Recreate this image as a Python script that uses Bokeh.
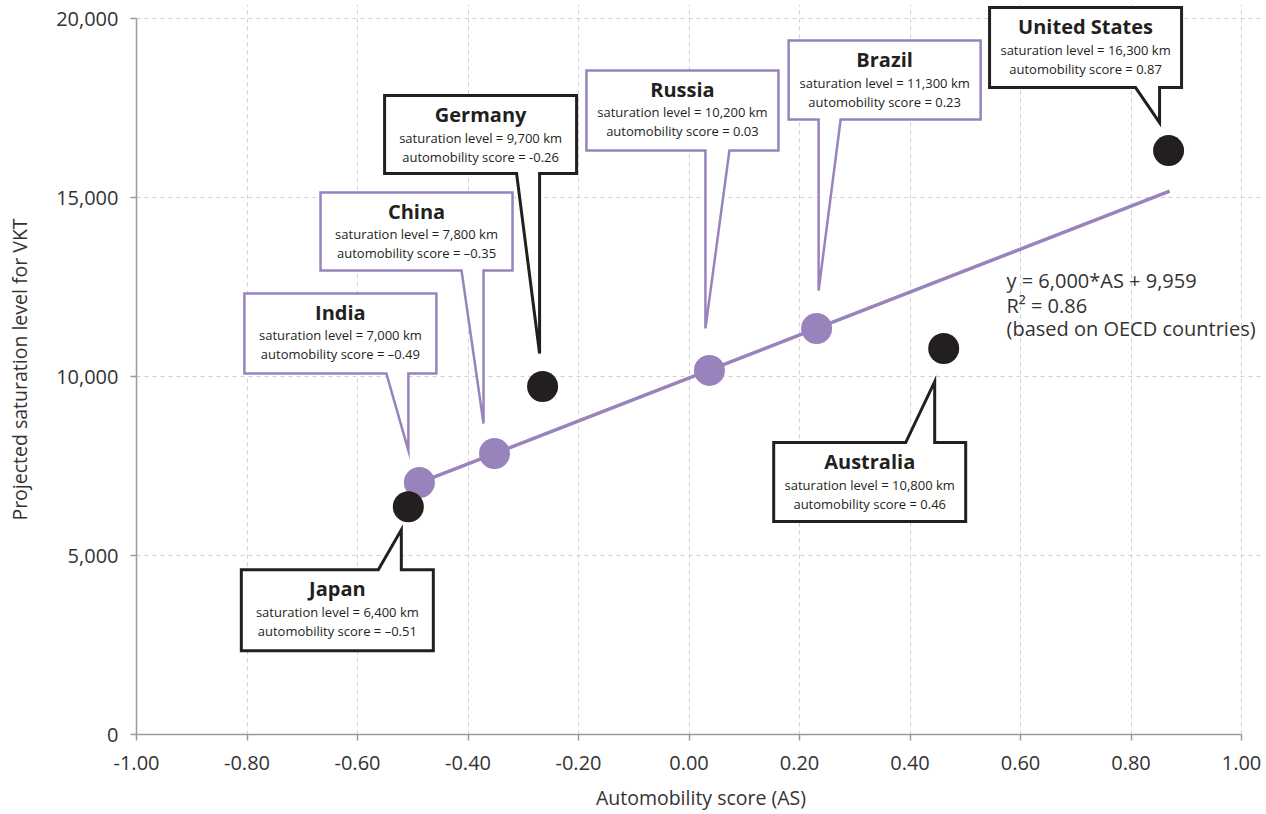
from bokeh.plotting import figure
from bokeh.models import Range1d, FixedTicker, NumeralTickFormatter, ColumnDataSource
from bokeh.embed import file_html
from bokeh.resources import INLINE
from bokeh.core.properties import value

# ---------------- data ----------------
countries = ["Japan", "India", "China", "Germany", "Russia", "Brazil", "Australia", "United States"]
automobility = [-0.508, -0.488, -0.352, -0.265, 0.037, 0.231, 0.461, 0.868]
saturation = [6360, 7040, 7850, 9720, 10170, 11340, 10780, 16310]
label_saturation = ["6,400", "7,000", "7,800", "9,700", "10,200", "11,300", "10,800", "16,300"]
label_automobility = ["\u20130.51", "\u20130.49", "\u20130.35", "-0.26", "0.03", "0.23", "0.46", "0.87"]
is_projected = [False, True, True, False, True, True, False, False]

fit_slope = 6000
fit_intercept = 9959
fit_x = [-0.49, 0.87]
fit_text = ["y = 6,000*AS + 9,959", "R\u00b2 = 0.86", "(based on OECD countries)"]

x_ticks = [-1.0, -0.8, -0.6, -0.4, -0.2, 0.0, 0.2, 0.4, 0.6, 0.8, 1.0]
y_ticks = [0, 5000, 10000, 15000, 20000]

# ---------------- style / layout ----------------
PURPLE = "#9883bd"
BLACK = "#231f20"
TEXT = "#333333"
FONT = "Open Sans"
AX_X0, AX_X1, AX_Y0, AX_Y1 = -1.0, 1.0, 0, 20000
AXIS_W, AXIS_H = 1105, 716          # pixel length of the drawn axes
XPX = AXIS_W / (AX_X1 - AX_X0)
YPX = AXIS_H / (AX_Y1 - AX_Y0)
EXTRA_RIGHT, EXTRA_TOP = 24, 14     # room inside the frame for callouts / notes
X0, X1 = AX_X0, AX_X1 + EXTRA_RIGHT / XPX
Y0, Y1 = AX_Y0, AX_Y1 + EXTRA_TOP / YPX

# note placement (left edge and line centres, px offsets from the axis corner)
NOTE_LEFT_PX = 1006 - 136
NOTE_LINES_PX = [280, 305, 328]

# callout layout in screen pixels relative to each point (y down):
# box left, box top, box height, tail side, tail base x0, x1, tip dx, tip dy
callouts = {
    "Japan":         (-167,   63, 81, "top",    -30,  -7,  -7,  23),
    "India":         (-175, -189, 80, "bottom", -33, -11, -11, -32),
    "China":         (-174, -261, 78, "bottom", -33, -11, -11, -30),
    "Germany":       (-158, -291, 78, "bottom", -26,  -3,  -3, -33),
    "Russia":        (-123, -300, 80, "bottom",  -4,  20,  -4, -42),
    "Brazil":        ( -28, -288, 79, "bottom",   2,  24,   2, -38),
    "Australia":     (-170,   94, 79, "top",    -38,  -9,  -9,  33),
    "United States": (-179, -143, 80, "bottom", -33,  -9,  -9, -28),
}
BOX_W = 192

p = figure(frame_width=AXIS_W + EXTRA_RIGHT, frame_height=AXIS_H + EXTRA_TOP,
           x_range=Range1d(X0, X1), y_range=Range1d(Y0, Y1),
           output_backend="svg", toolbar_location=None,
           min_border_left=136, min_border_top=4, min_border_right=0, min_border_bottom=4)
p.outline_line_color = None
p.background_fill_color = "white"

# axes
for ax in (p.xaxis, p.yaxis):
    ax.axis_line_color = "#9a9a9a"
    ax.axis_line_width = 1.5
    ax.major_tick_line_color = "#9a9a9a"
    ax.major_tick_line_width = 1.5
    ax.major_tick_in = 0
    ax.major_tick_out = 6
    ax.minor_tick_line_color = None
    ax.major_label_text_font = FONT
    ax.major_label_text_font_size = "20px"
    ax.major_label_text_color = TEXT
    ax.axis_label_text_font = FONT
    ax.axis_label_text_font_size = "19.5px"
    ax.axis_label_text_font_style = "normal"
    ax.axis_label_text_color = TEXT

p.xaxis.bounds = (AX_X0, AX_X1)
p.yaxis.bounds = (AX_Y0, AX_Y1)
p.xaxis.ticker = FixedTicker(ticks=x_ticks)
p.yaxis.ticker = FixedTicker(ticks=y_ticks)
p.xaxis.formatter = NumeralTickFormatter(format="0.00")
p.yaxis.formatter = NumeralTickFormatter(format="0,0")
p.xaxis.axis_label = "Automobility score (AS)"
p.yaxis.axis_label = "Projected saturation level for VKT"
p.xaxis.major_label_standoff = 15
p.yaxis.major_label_standoff = 12
p.xaxis.axis_label_standoff = 11
p.yaxis.axis_label_standoff = 20

for g in (p.xgrid, p.ygrid):
    g.grid_line_color = "#cfcfcf"
    g.grid_line_dash = "4 4"
    g.grid_line_width = 1
p.xgrid.ticker = FixedTicker(ticks=x_ticks)
p.ygrid.ticker = FixedTicker(ticks=y_ticks)
p.xgrid.bounds = (AX_Y0, AX_Y1)
p.ygrid.bounds = (AX_X0, AX_X1)

# regression line
fit_y = [fit_slope * v + fit_intercept for v in fit_x]
p.line(fit_x, fit_y, line_color=PURPLE, line_width=3.5)

# regression note
note_x = AX_X0 + NOTE_LEFT_PX / XPX
note_y = [AX_Y0 + (734 - v) / YPX for v in NOTE_LINES_PX]
p.text(x=[note_x] * 3, y=note_y, text=fit_text,
       text_font=value(FONT), text_font_size="20px", text_color=TEXT,
       text_align="left", text_baseline="middle")

# callouts
title_x, title_y, line_x, line_y, line_txt = [], [], [], [], []
for i, name in enumerate(countries):
    L, T, H, side, b0, b1, tdx, tdy = callouts[name]
    px0 = automobility[i]
    py0 = saturation[i]

    def X(dx):
        return px0 + dx / XPX

    def Y(dy):
        return py0 - dy / YPX

    R = L + BOX_W
    B = T + H
    if side == "bottom":
        pts = [(L, T), (R, T), (R, B), (b1, B), (tdx, tdy), (b0, B), (L, B)]
    else:
        pts = [(L, T), (b0, T), (tdx, tdy), (b1, T), (R, T), (R, B), (L, B)]
    col = PURPLE if is_projected[i] else BLACK
    lw = 2.5 if is_projected[i] else 3
    p.patch([X(a) for a, b in pts], [Y(b) for a, b in pts],
            fill_color="white", line_color=col, line_width=lw, line_join="miter")
    cx = X(L + BOX_W / 2)
    title_x.append(cx)
    title_y.append(Y(T + 19))
    line_x += [cx, cx]
    line_y += [Y(T + 42), Y(T + 61)]
    line_txt += ["saturation level = %s km" % label_saturation[i],
                 "automobility score = %s" % label_automobility[i]]

p.text(x=title_x, y=title_y, text=countries, text_font=value(FONT),
       text_font_size="20px", text_font_style="bold", text_color=BLACK,
       text_align="center", text_baseline="middle")
p.text(x=line_x, y=line_y, text=line_txt, text_font=value(FONT),
       text_font_size="13px", text_color=BLACK,
       text_align="center", text_baseline="middle")

# points: projected (purple) first, OECD (black) on top
src_p = ColumnDataSource(dict(x=[a for a, f in zip(automobility, is_projected) if f],
                              y=[s for s, f in zip(saturation, is_projected) if f]))
src_b = ColumnDataSource(dict(x=[a for a, f in zip(automobility, is_projected) if not f],
                              y=[s for s, f in zip(saturation, is_projected) if not f]))
p.scatter("x", "y", source=src_p, size=31, fill_color=PURPLE, line_color=None)
p.scatter("x", "y", source=src_b, size=31, fill_color=BLACK, line_color=None)

open("out.html", "w").write(file_html(p, INLINE))
